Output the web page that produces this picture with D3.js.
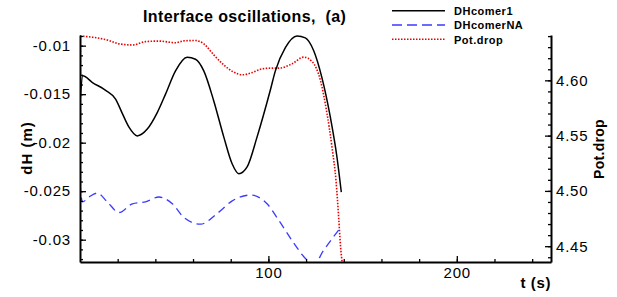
<!DOCTYPE html>
<html>
<head>
<meta charset="utf-8">
<script src="https://cdn.jsdelivr.net/npm/d3@7"></script>
<style>
  body { margin: 0; background: #fff; }
  text { font-family: "Liberation Sans", Arial, sans-serif; fill: #000; }
  .tick text { font-size: 15px; letter-spacing: 0.8px; }
  .bold { font-weight: bold; }
</style>
</head>
<body>
<div id="chart"></div>
<script>
// DHcomer1 (left axis)
var tBlack = [0, 1.5, 6.6, 13.6, 18.9, 22.5, 26, 30.4, 35.7, 41, 45.4, 50.7, 56.9, 61.3, 65.7, 71, 76.3, 80.8, 84.3, 88.7, 94, 101, 103.7, 109, 115.2, 119.6, 124, 128.4, 132.9, 136.4, 138.7];
var vBlack = [-0.0158, -0.0131, -0.0138, -0.0146, -0.0155, -0.0170, -0.0184, -0.0193, -0.0186, -0.0169, -0.0150, -0.0126, -0.0112, -0.0114, -0.0126, -0.0157, -0.0194, -0.0222, -0.0232, -0.0225, -0.0194, -0.0146, -0.0126, -0.0102, -0.0090, -0.0092, -0.0105, -0.0133, -0.0174, -0.0215, -0.0251];

// DHcomerNA (left axis)
var tBlue = [0, 1.3, 4.8, 9.2, 14.5, 20.7, 27.8, 34.8, 41.9, 49, 55.1, 64, 72.8, 80.8, 90.5, 99.3, 105.5, 112.6, 120.5, 124, 129.3, 137.3];
var vBlue = [-0.0243, -0.0261, -0.0256, -0.0252, -0.0261, -0.0272, -0.0263, -0.0261, -0.0256, -0.0263, -0.0277, -0.0284, -0.0273, -0.0260, -0.0254, -0.0263, -0.0280, -0.0301, -0.0321, -0.0326, -0.0311, -0.0290];

// Pot.drop (right axis)
var tRed = [0, 6.6, 15.4, 20.7, 27.8, 34.8, 41.9, 50.7, 55.1, 61.3, 65.7, 71, 76.3, 81.6, 86, 91.4, 95.8, 101, 105.5, 112.6, 118.7, 123.2, 127.6, 131.1, 133.8, 135.9, 137.3, 138.2, 139.4];
var vRed = [4.640, 4.639, 4.636, 4.633, 4.632, 4.635, 4.6355, 4.634, 4.6357, 4.636, 4.633, 4.623, 4.614, 4.6075, 4.605, 4.607, 4.610, 4.611, 4.611, 4.615, 4.621, 4.617, 4.600, 4.570, 4.539, 4.509, 4.476, 4.452, 4.432];

var xTicks = [100, 200];
var leftTicks = [-0.03, -0.025, -0.02, -0.015, -0.01];
var leftLabels = ["-0.03", "-0.025", "-0.02", "-0.015", "-0.01"];
var rightTicks = [4.45, 4.50, 4.55, 4.60];
var rightLabels = ["4.45", "4.50", "4.55", "4.60"];

var seriesNames = ["DHcomer1", "DHcomerNA", "Pot.drop"];

var W = 617, H = 297;
var plot = {left: 80, right: 551, top: 35, bottom: 262};

var svg = d3.select("#chart").append("svg")
    .attr("width", W)
    .attr("height", H);

var x = d3.scaleLinear().domain([0, 250]).range([plot.left, plot.right]);
var yL = d3.scaleLinear().domain([-0.0323, -0.0089]).range([plot.bottom, plot.top]);
var yR = d3.scaleLinear().domain([4.4357, 4.641]).range([plot.bottom, plot.top]);

svg.append("clipPath").attr("id", "clip")
  .append("rect")
    .attr("x", plot.left).attr("y", plot.top)
    .attr("width", plot.right - plot.left)
    .attr("height", plot.bottom - plot.top);

function pairs(t, v) {
    return t.map(function (d, i) { return [d, v[i]]; });
}

var lineL = d3.line().x(function (d) { return x(d[0]); }).y(function (d) { return yL(d[1]); }).curve(d3.curveMonotoneX);
var lineR = d3.line().x(function (d) { return x(d[0]); }).y(function (d) { return yR(d[1]); }).curve(d3.curveMonotoneX);

var g = svg.append("g").attr("clip-path", "url(#clip)");

g.append("path")
    .attr("d", lineR(pairs(tRed, vRed)))
    .attr("fill", "none")
    .attr("stroke", "#e80000")
    .attr("stroke-width", 1.6)
    .attr("stroke-dasharray", "1.5,1.5");

g.append("path")
    .attr("d", lineL(pairs(tBlue, vBlue)))
    .attr("fill", "none")
    .attr("stroke", "#3a3aff")
    .attr("stroke-width", 1.3)
    .attr("stroke-dasharray", "8,5");

g.append("path")
    .attr("d", lineL(pairs(tBlack, vBlack)))
    .attr("fill", "none")
    .attr("stroke", "#000")
    .attr("stroke-width", 1.5);

// axes
function styleAxis(sel) {
    sel.select(".domain").attr("stroke-width", 2);
    sel.selectAll(".tick line").attr("stroke-width", 1.3);
    sel.selectAll(".tick text").attr("fill", "#000");
}

// bottom
svg.append("g")
    .attr("transform", "translate(0," + plot.bottom + ")")
    .call(d3.axisBottom(x).tickValues(d3.range(20, 250, 20)).tickSize(-3).tickSizeOuter(0).tickFormat(""))
    .call(styleAxis);
svg.append("g")
    .attr("transform", "translate(0," + plot.bottom + ")")
    .call(d3.axisBottom(x).tickValues(xTicks).tickSize(-6).tickSizeOuter(0).tickPadding(5).tickFormat(d3.format("d")))
    .call(styleAxis)
    .call(function (s) { s.select(".domain").remove(); s.selectAll(".tick text").attr("dy", "0.71em"); });

// left
svg.append("g")
    .attr("transform", "translate(" + plot.left + ",0)")
    .call(d3.axisLeft(yL).tickValues(d3.range(-0.032, -0.0089, 0.001)).tickSize(-3).tickSizeOuter(0).tickFormat(""))
    .call(styleAxis);
svg.append("g")
    .attr("transform", "translate(" + plot.left + ",0)")
    .call(d3.axisLeft(yL).tickValues(leftTicks).tickSize(-6).tickSizeOuter(0).tickPadding(9)
        .tickFormat(function (d, i) { return leftLabels[i]; }))
    .call(styleAxis)
    .call(function (s) { s.select(".domain").remove(); });

// right
svg.append("g")
    .attr("transform", "translate(" + plot.right + ",0)")
    .call(d3.axisRight(yR).tickValues(d3.range(4.44, 4.645, 0.01)).tickSize(-3).tickSizeOuter(0).tickFormat(""))
    .call(styleAxis);
svg.append("g")
    .attr("transform", "translate(" + plot.right + ",0)")
    .call(d3.axisRight(yR).tickValues(rightTicks).tickSize(-6).tickSizeOuter(0).tickPadding(5)
        .tickFormat(function (d, i) { return rightLabels[i]; }))
    .call(styleAxis)
    .call(function (s) { s.select(".domain").remove(); });

// titles
svg.append("text")
    .attr("class", "bold")
    .attr("x", 143).attr("y", 22)
    .attr("font-size", 16)
    .attr("letter-spacing", 0.4)
    .text("Interface oscillations,  (a)")
    .attr("xml:space", "preserve")
    .style("white-space", "pre");

svg.append("text")
    .attr("class", "bold")
    .attr("text-anchor", "end")
    .attr("x", 551).attr("y", 288)
    .attr("font-size", 15)
    .attr("letter-spacing", 0.6)
    .text("t (s)");

svg.append("text")
    .attr("class", "bold")
    .attr("text-anchor", "middle")
    .attr("transform", "translate(32,148) rotate(-90)")
    .attr("font-size", 15)
    .attr("letter-spacing", 1)
    .text("dH (m)");

svg.append("text")
    .attr("class", "bold")
    .attr("text-anchor", "middle")
    .attr("transform", "translate(604,149) rotate(-90)")
    .attr("font-size", 14)
    .attr("letter-spacing", 0.3)
    .text("Pot.drop");

// legend
var legendStyles = [
    {stroke: "#000", dash: null, w: 1.5},
    {stroke: "#3a3aff", dash: "10,5", w: 1.5},
    {stroke: "#e80000", dash: "1.5,1.5", w: 1.6}
];
var legend = svg.append("g");
seriesNames.forEach(function (name, i) {
    var ly = 10.7 + i * 14.3;
    legend.append("line")
        .attr("x1", 392).attr("x2", 445)
        .attr("y1", ly).attr("y2", ly)
        .attr("stroke", legendStyles[i].stroke)
        .attr("stroke-width", legendStyles[i].w)
        .attr("stroke-dasharray", legendStyles[i].dash);
    legend.append("text")
        .attr("class", "bold")
        .attr("x", 454).attr("y", ly + 4.3)
        .attr("font-size", 11)
        .attr("letter-spacing", 0.5)
        .text(name);
});
</script>
</body>
</html>
